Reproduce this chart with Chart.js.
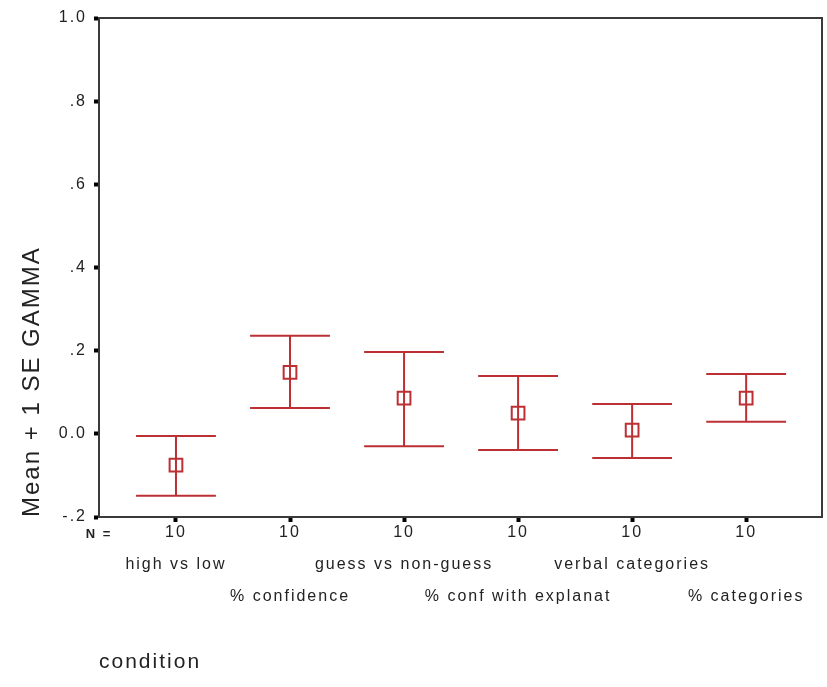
<!DOCTYPE html>
<html>
<head>
<meta charset="utf-8">
<script src="https://cdn.jsdelivr.net/npm/chart.js@4"></script>
<style>
  html, body { margin: 0; padding: 0; background: #fff; }
  #wrap { width: 827px; height: 687px; position: relative; }
</style>
</head>
<body>
<div id="wrap"><canvas id="graphCanvas"></canvas></div>
<script>
// data
const categories = ["high vs low", "% confidence", "guess vs non-guess", "% conf with explanat", "verbal categories", "% categories"];
const nCounts = [10, 10, 10, 10, 10, 10];
const means = [-0.075, 0.148, 0.086, 0.050, 0.009, 0.086];
const upper = [-0.005, 0.236, 0.197, 0.139, 0.072, 0.144];
const lower = [-0.149, 0.062, -0.030, -0.039, -0.058, 0.029];
const yTicks = [-0.2, 0, 0.2, 0.4, 0.6, 0.8, 1.0];

const RED = "rgb(188, 48, 52)";
const AXIS = "#3a3a3a";
const FONT = "'Liberation Sans', Arial, sans-serif";

// SPSS style labels: ".8", "0.0", "-.2"
function fmtY(v) {
  if (Math.abs(v) < 1e-9) return "0.0";
  if (Math.abs(v - 1) < 1e-9) return "1.0";
  const s = v.toFixed(1);
  return s.replace("0.", ".");
}

// wide bitmap-ish lettering of the original
const spacingPlugin = {
  id: "spacing",
  beforeUpdate(chart) { chart.ctx.letterSpacing = "2px"; },
  beforeDraw(chart) { chart.ctx.letterSpacing = "2px"; },
};

// error bars + frame + "N =" marker
const errorBarPlugin = {
  id: "errorBars",
  afterDatasetsDraw(chart) {
    const { ctx, chartArea } = chart;
    const xs = chart.scales.x;
    const ys = chart.scales.y;
    ctx.save();
    ctx.strokeStyle = RED;
    ctx.lineWidth = 2;
    categories.forEach((c, i) => {
      const x = xs.getPixelForValue(i + 1);
      const x0 = xs.getPixelForValue(i + 1 - 0.35);
      const x1 = xs.getPixelForValue(i + 1 + 0.35);
      const yHi = ys.getPixelForValue(upper[i]);
      const yLo = ys.getPixelForValue(lower[i]);
      ctx.beginPath();
      ctx.moveTo(x, yHi); ctx.lineTo(x, yLo);
      ctx.moveTo(x0, yHi); ctx.lineTo(x1, yHi);
      ctx.moveTo(x0, yLo); ctx.lineTo(x1, yLo);
      ctx.stroke();
    });
    // top and right border of the box
    ctx.strokeStyle = AXIS;
    ctx.lineWidth = 2;
    ctx.beginPath();
    ctx.moveTo(chartArea.left, chartArea.top);
    ctx.lineTo(chartArea.right, chartArea.top);
    ctx.lineTo(chartArea.right, chartArea.bottom);
    ctx.stroke();
    // N = label
    ctx.fillStyle = "#222";
    ctx.font = "bold 13px " + FONT;
    ctx.textAlign = "center";
    ctx.textBaseline = "middle";
    ctx.fillText("N =", chartArea.left, 534);
    ctx.restore();
  },
};

const ctx = document.getElementById("graphCanvas");
new Chart(ctx, {
  type: "scatter",
  data: {
    datasets: [{
      label: "GAMMA",
      data: means.map((m, i) => ({ x: i + 1, y: m })),
      pointStyle: "rect",
      pointRadius: 9,
      pointBorderWidth: 2,
      pointBorderColor: RED,
      pointBackgroundColor: "rgba(0,0,0,0)",
      showLine: false,
    }],
  },
  options: {
    responsive: true,
    maintainAspectRatio: false,
    animation: false,
    events: [],
    layout: { autoPadding: false, padding: { top: 18, right: 5, left: 0, bottom: 0 } },
    plugins: {
      legend: { display: false },
      tooltip: { enabled: false },
    },
    scales: {
      x: {
        type: "linear",
        min: 0.325,
        max: 6.665,
        afterBuildTicks: (scale) => {
          scale.ticks = categories.map((c, i) => ({ value: i + 1 }));
        },
        afterFit: (scale) => {
          scale.height = 170;
          scale.paddingLeft = 0;
          scale.paddingRight = 0;
        },
        border: { display: true, color: AXIS, width: 2 },
        grid: {
          drawOnChartArea: false,
          drawTicks: true,
          tickLength: 5,
          tickWidth: 4,
          tickColor: "#000",
        },
        ticks: {
          autoSkip: false,
          maxRotation: 0,
          minRotation: 0,
          padding: 3,
          color: "#222",
          font: { family: FONT, size: 16, lineHeight: "16px" },
          callback: (v) => {
            const i = Math.round(v) - 1;
            if (i < 0 || i >= categories.length) return "";
            const lines = [String(nCounts[i]), "", "", "", ""];
            lines[i % 2 === 0 ? 2 : 4] = categories[i];
            return lines;
          },
        },
        title: {
          display: true,
          text: "condition",
          align: "start",
          color: "#222",
          font: { family: FONT, size: 21 },
          padding: { top: 0, bottom: 12 },
        },
      },
      y: {
        type: "linear",
        min: -0.2,
        max: 1.0,
        afterBuildTicks: (scale) => {
          scale.ticks = yTicks.map((v) => ({ value: v }));
        },
        afterFit: (scale) => { scale.width = 99; },
        border: { display: true, color: AXIS, width: 2 },
        grid: {
          drawOnChartArea: false,
          drawTicks: true,
          tickLength: 5,
          tickWidth: 4,
          tickColor: "#000",
        },
        ticks: {
          padding: 7,
          color: "#222",
          font: { family: FONT, size: 16 },
          callback: (v) => fmtY(v),
        },
        title: {
          display: true,
          text: "Mean + 1 SE GAMMA",
          align: "start",
          color: "#222",
          font: { family: FONT, size: 24 },
          padding: { top: 18, bottom: 0 },
        },
      },
    },
  },
  plugins: [spacingPlugin, errorBarPlugin],
});
</script>
</body>
</html>
